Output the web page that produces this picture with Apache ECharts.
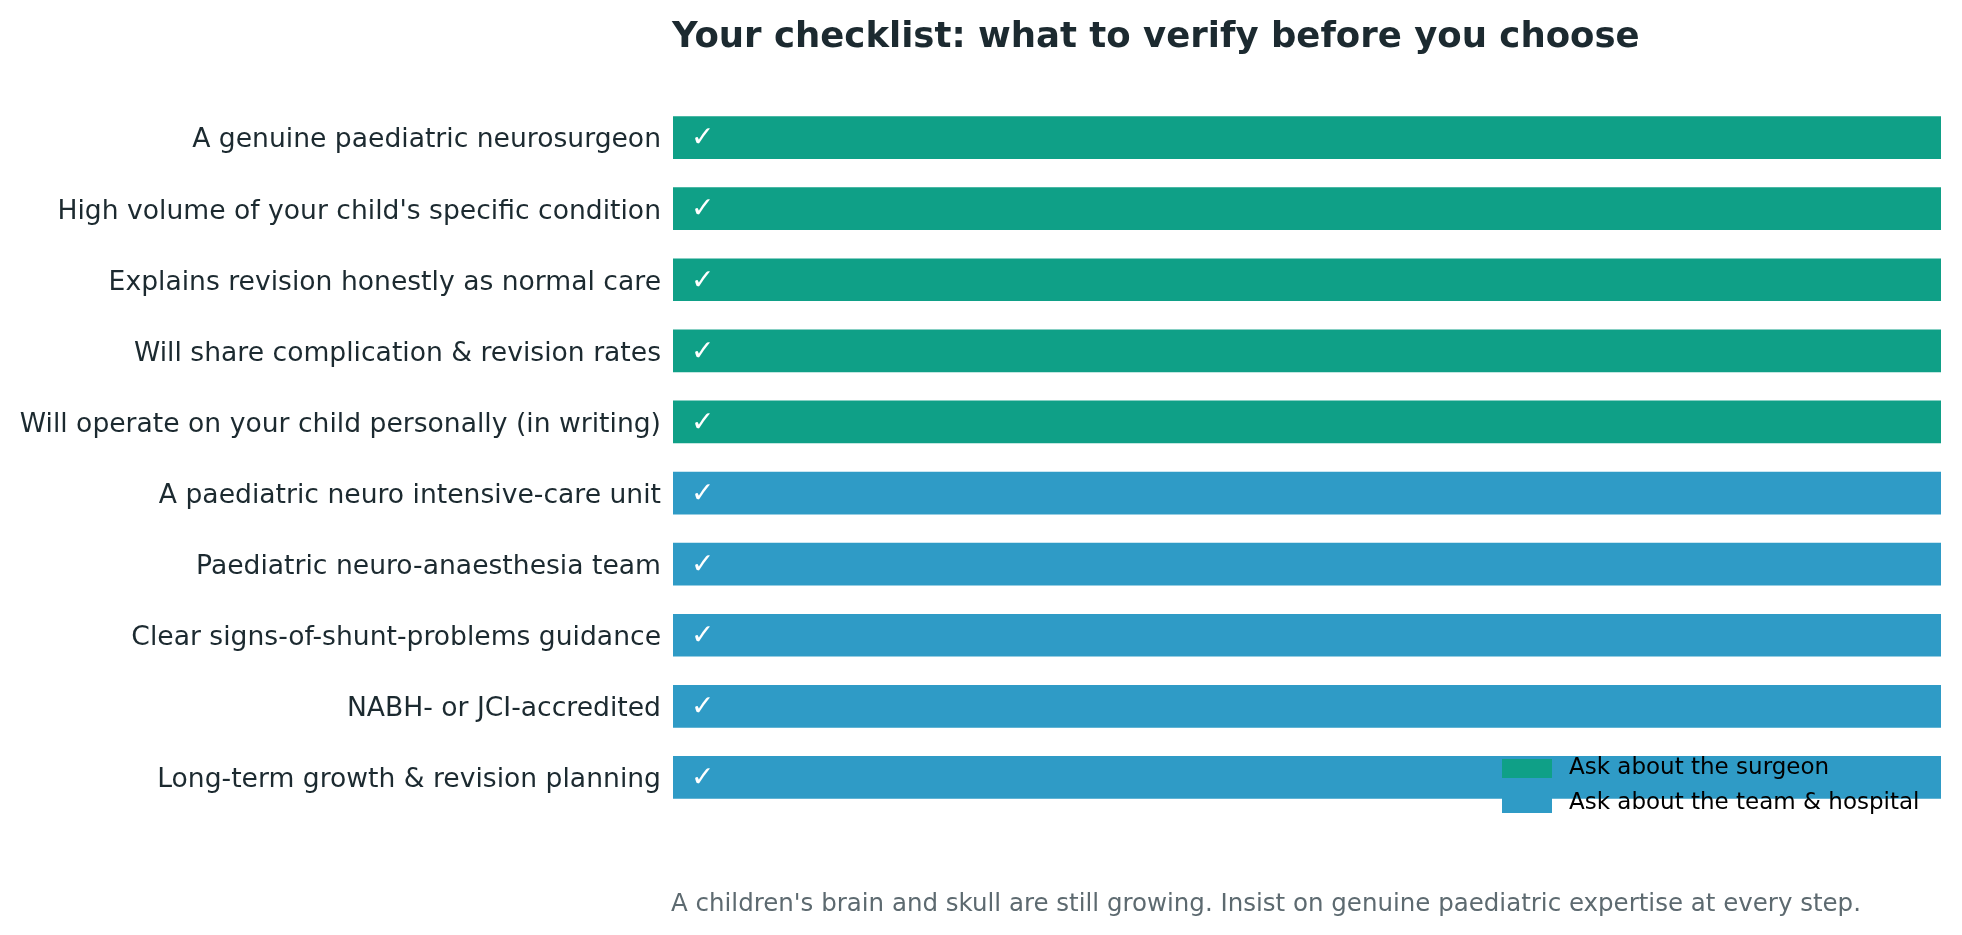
<!DOCTYPE html>
<html>
<head>
<meta charset="utf-8">
<title>Checklist</title>
<script src="https://cdn.jsdelivr.net/npm/echarts@6/dist/echarts.min.js"></script>
<style>
  html, body { margin: 0; padding: 0; background: #fff; }
  #chart { width: 1962px; height: 935px; }
</style>
</head>
<body>
<div id="chart"></div>
<script>
// checklist items, top to bottom
const items = [
  'A genuine paediatric neurosurgeon',
  "High volume of your child's specific condition",
  'Explains revision honestly as normal care',
  'Will share complication & revision rates',
  'Will operate on your child personally (in writing)',
  'A paediatric neuro intensive-care unit',
  'Paediatric neuro-anaesthesia team',
  'Clear signs-of-shunt-problems guidance',
  'NABH- or JCI-accredited',
  'Long-term growth & revision planning',
]
// every item is a full "tick" (1 = verify this)
const surgeonValues = [1, 1, 1, 1, 1, null, null, null, null, null]
const teamValues = [null, null, null, null, null, 1, 1, 1, 1, 1]
const groupNames = ['Ask about the surgeon', 'Ask about the team & hospital']

const FONT = 'DejaVu Sans'
const GREEN = '#0fa087'
const BLUE = '#2f9bc6'

var myChart = echarts.init(document.getElementById('chart'))

const tickLabel = {
  show: true,
  position: 'insideLeft',
  distance: 18,
  formatter: '{c|✓}',
  rich: {
    c: {
      color: '#fff',
      fontFamily: FONT,
      fontSize: 28,
      padding: [3, 0, 0, 0],
    },
  },
}

var option = {
  animation: false,
  title: [
    {
      text: 'Your checklist: what to verify before you choose',
      left: 667,
      top: 15,
      textStyle: {
        fontFamily: FONT,
        fontSize: 35.5,
        fontWeight: 'bold',
        color: '#1c2a30',
      },
    },
    {
      text: "A children's brain and skull are still growing. Insist on genuine paediatric expertise at every step.",
      left: 666,
      top: 887,
      textStyle: {
        fontFamily: FONT,
        fontSize: 24.5,
        fontWeight: 'normal',
        color: '#5d6a70',
      },
    },
  ],
  legend: {
    orient: 'vertical',
    left: 1497,
    top: 752,
    itemWidth: 50,
    itemHeight: 19,
    itemGap: 12,
    icon: 'rect',
    data: groupNames,
    textStyle: {
      fontFamily: FONT,
      fontSize: 23,
      color: '#000',
      padding: [0, 0, 0, 12],
    },
  },
  grid: {
    left: 673,
    right: 21,
    top: 102,
    bottom: 122,
    containLabel: false,
  },
  xAxis: {
    type: 'value',
    min: 0,
    max: 1,
    show: false,
  },
  yAxis: {
    type: 'category',
    data: items,
    inverse: true,
    axisLine: { show: false },
    axisTick: { show: false },
    splitLine: { show: false },
    axisLabel: {
      margin: 12,
      // nudge the text down a little so it sits like the original
      formatter: (v) => '{t|' + v + '}',
      rich: {
        t: {
          fontFamily: FONT,
          fontSize: 26.6,
          color: '#1c2a30',
          padding: [6, 0, 0, 0],
        },
      },
    },
  },
  series: [
    {
      name: groupNames[0],
      type: 'bar',
      stack: 'all',
      barWidth: '60%',
      data: surgeonValues,
      itemStyle: { color: GREEN },
      label: tickLabel,
    },
    {
      name: groupNames[1],
      type: 'bar',
      stack: 'all',
      barWidth: '60%',
      data: teamValues,
      itemStyle: { color: BLUE },
      label: tickLabel,
    },
  ],
}

myChart.setOption(option)
window.onresize = () => {
  myChart.resize()
}
</script>
</body>
</html>
